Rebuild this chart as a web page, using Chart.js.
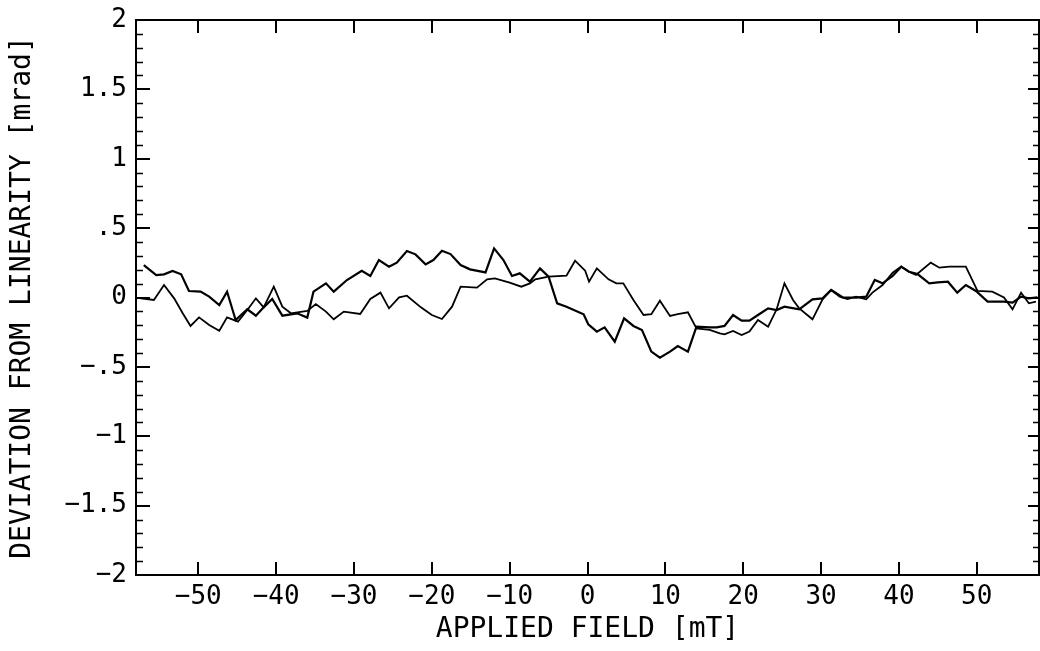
<!DOCTYPE html>
<html>
<head>
<meta charset="utf-8">
<title>Deviation from linearity</title>
<script src="https://cdn.jsdelivr.net/npm/chart.js@4/dist/chart.umd.min.js"></script>
<style>
  html, body { margin: 0; padding: 0; background: #fff; }
  #wrap { width: 1040px; height: 651px; position: relative; }
</style>
</head>
<body>
<div id="wrap"><canvas id="devChart"></canvas></div>
<script>
// sweep A (starts high on the left)
const fieldA = [-57.0, -55.4, -54.4, -53.3, -52.2, -51.2, -49.7, -48.6, -47.3, -46.3, -45.2, -43.7, -42.6, -41.6, -40.5, -39.2, -37.3, -36.0, -35.2, -33.6, -32.6, -30.9, -29.0, -27.9, -26.8, -25.5, -24.5, -23.2, -22.1, -20.8, -19.8, -18.7, -17.6, -16.3, -15.1, -13.1, -12.0, -10.8, -9.7, -8.7, -7.4, -6.1, -5.0, -3.9, -2.7, -0.5, 0.1, 1.2, 2.2, 3.5, 4.7, 5.9, 7.0, 8.2, 9.3, 10.6, 11.6, 12.9, 14.0, 15.7, 16.6, 17.6, 18.7, 19.8, 20.8, 21.9, 23.2, 24.3, 25.3, 27.2, 28.9, 30.2, 31.3, 32.8, 34.5, 35.8, 36.9, 37.9, 39.2, 40.3, 41.3, 42.4, 43.9, 45.0, 46.3, 47.5, 48.6, 49.9, 51.4, 53.5, 54.6, 55.7, 56.7, 57.8];
const devA = [0.234, 0.162, 0.167, 0.191, 0.167, 0.047, 0.042, 0.006, -0.054, 0.042, -0.162, -0.085, -0.131, -0.071, -0.011, -0.131, -0.114, -0.145, 0.042, 0.102, 0.042, 0.126, 0.193, 0.155, 0.270, 0.222, 0.251, 0.335, 0.311, 0.239, 0.270, 0.337, 0.313, 0.234, 0.203, 0.181, 0.354, 0.270, 0.155, 0.174, 0.114, 0.210, 0.150, -0.042, -0.066, -0.121, -0.193, -0.246, -0.215, -0.318, -0.150, -0.205, -0.234, -0.390, -0.434, -0.390, -0.350, -0.390, -0.210, -0.215, -0.215, -0.205, -0.126, -0.167, -0.167, -0.126, -0.078, -0.090, -0.066, -0.085, -0.013, -0.006, 0.054, 0.001, -0.001, 0.006, 0.126, 0.102, 0.155, 0.222, 0.186, 0.169, 0.102, 0.109, 0.114, 0.035, 0.090, 0.047, -0.030, -0.030, -0.037, 0.006, -0.006, 0.001];

// sweep B (starts near zero on the left)
const fieldB = [-57.4, -55.7, -54.4, -53.1, -52.0, -51.0, -49.9, -48.6, -47.3, -46.3, -44.9, -43.7, -42.6, -41.6, -40.3, -39.2, -38.1, -36.0, -34.9, -33.6, -32.6, -31.3, -29.2, -27.9, -26.6, -25.5, -24.2, -23.2, -21.4, -20.0, -18.7, -17.4, -16.3, -14.2, -12.9, -11.9, -10.0, -8.5, -7.4, -6.7, -5.0, -2.7, -1.6, -0.3, 0.2, 1.2, 2.7, 3.7, 4.6, 5.9, 7.2, 8.2, 9.3, 10.6, 11.6, 12.9, 14.0, 15.7, 17.0, 17.6, 18.7, 19.8, 20.8, 21.9, 23.2, 24.3, 25.3, 26.4, 27.2, 28.9, 30.2, 31.3, 32.4, 33.4, 34.5, 35.8, 36.6, 37.9, 39.2, 40.3, 41.3, 42.2, 44.1, 45.2, 46.5, 48.6, 50.1, 52.0, 53.5, 54.6, 55.7, 56.7, 57.6];
const devB = [-0.006, -0.018, 0.090, -0.006, -0.114, -0.205, -0.143, -0.198, -0.239, -0.143, -0.174, -0.090, -0.006, -0.071, 0.078, -0.066, -0.114, -0.097, -0.047, -0.102, -0.157, -0.102, -0.119, -0.011, 0.035, -0.078, 0.001, 0.013, -0.071, -0.126, -0.155, -0.066, 0.078, 0.071, 0.131, 0.138, 0.107, 0.078, 0.102, 0.131, 0.150, 0.157, 0.265, 0.193, 0.114, 0.210, 0.131, 0.102, 0.102, -0.018, -0.126, -0.120, -0.023, -0.133, -0.120, -0.107, -0.222, -0.234, -0.258, -0.265, -0.241, -0.270, -0.246, -0.162, -0.210, -0.085, 0.102, -0.018, -0.078, -0.157, -0.013, 0.054, 0.006, -0.011, 0.006, -0.013, 0.035, 0.090, 0.179, 0.222, 0.186, 0.162, 0.251, 0.215, 0.222, 0.222, 0.047, 0.042, 0.001, -0.085, 0.035, -0.042, -0.030];

const xTickValues = [-50, -40, -30, -20, -10, 0, 10, 20, 30, 40, 50];
const xTickLabels = ['\u221250', '\u221240', '\u221230', '\u221220', '\u221210', '0', '10', '20', '30', '40', '50'];
const yTickValues = [-2, -1.5, -1, -0.5, 0, 0.5, 1, 1.5, 2];
const yTickLabels = ['\u22122', '\u22121.5', '\u22121', '\u2212.5', '0', '.5', '1', '1.5', '2'];
const yMinorStep = 0.1;

const xTitle = 'APPLIED FIELD [mT]';
const yTitle = 'DEVIATION FROM LINEARITY [mrad]';

const monoFamily = '"DejaVu Sans Mono", "Liberation Mono", monospace';
const tickFont = { family: monoFamily, size: 26 };
const titleFont = { family: monoFamily, size: 28 };

const toPoints = (xs, ys) => xs.map((x, i) => ({ x: x, y: ys[i] }));

// short inward ticks between the labelled ones, left and right frame
const minorTicks = {
  id: 'minorTicks',
  afterDraw(chart) {
    const { ctx, chartArea, scales } = chart;
    const y = scales.y;
    ctx.save();
    ctx.strokeStyle = '#000';
    ctx.lineWidth = 1.6;
    const n = Math.round((y.max - y.min) / yMinorStep);
    for (let i = 0; i <= n; i++) {
      if (i % 5 === 0) continue;
      const py = Math.round(y.getPixelForValue(y.min + i * yMinorStep)) + 0.5;
      ctx.beginPath();
      ctx.moveTo(chartArea.left, py);
      ctx.lineTo(chartArea.left + 7, py);
      ctx.moveTo(chartArea.right, py);
      ctx.lineTo(chartArea.right - 6, py);
      ctx.stroke();
    }
    ctx.restore();
  }
};

const frameGrid = (len) => ({
  drawOnChartArea: false,
  drawTicks: true,
  tickLength: len,
  color: '#000',
  lineWidth: 2
});
const frameBorder = { display: true, color: '#000', width: 2 };

const ctx = document.getElementById('devChart').getContext('2d');
const devChart = new Chart(ctx, {
  type: 'scatter',
  data: {
    datasets: [{
      label: 'sweep A',
      data: toPoints(fieldA, devA),
      showLine: true,
      borderColor: '#000',
      borderWidth: 2.2,
      pointRadius: 0,
      tension: 0
    }, {
      label: 'sweep B',
      data: toPoints(fieldB, devB),
      showLine: true,
      borderColor: '#000',
      borderWidth: 1.8,
      pointRadius: 0,
      tension: 0
    }]
  },
  options: {
    responsive: true,
    maintainAspectRatio: false,
    animation: false,
    layout: { padding: { top: 20, right: 1, left: 0, bottom: 0 } },
    plugins: {
      legend: { display: false },
      tooltip: { enabled: false }
    },
    scales: {
      x: {
        type: 'linear',
        position: 'bottom',
        min: -58,
        max: 58,
        afterBuildTicks: s => { s.ticks = xTickValues.map(v => ({ value: v })); },
        afterFit: s => { s.height = 76; s.paddingLeft = 0; s.paddingRight = 0; },
        grid: frameGrid(-13),
        border: frameBorder,
        ticks: {
          color: '#000',
          font: tickFont,
          padding: 20,
          maxRotation: 0,
          callback: v => xTickLabels[xTickValues.indexOf(v)]
        },
        title: {
          display: true,
          text: xTitle,
          color: '#000',
          font: titleFont,
          padding: { top: 0, bottom: 4 }
        }
      },
      x2: {
        type: 'linear',
        position: 'top',
        min: -58,
        max: 58,
        afterBuildTicks: s => { s.ticks = xTickValues.map(v => ({ value: v })); },
        afterFit: s => { s.height = 0; },
        grid: frameGrid(-13),
        border: frameBorder,
        ticks: { display: false }
      },
      y: {
        type: 'linear',
        position: 'left',
        min: -2,
        max: 2,
        afterBuildTicks: s => { s.ticks = yTickValues.map(v => ({ value: v })); },
        afterFit: s => { s.width = 136; s.paddingTop = 0; s.paddingBottom = 0; },
        grid: frameGrid(-14),
        border: frameBorder,
        ticks: {
          color: '#000',
          font: tickFont,
          padding: 23,
          callback: v => yTickLabels[yTickValues.indexOf(v)]
        },
        title: {
          display: true,
          text: yTitle,
          color: '#000',
          font: titleFont,
          padding: { top: 6, bottom: 0 }
        }
      },
      y2: {
        type: 'linear',
        position: 'right',
        min: -2,
        max: 2,
        afterBuildTicks: s => { s.ticks = yTickValues.map(v => ({ value: v })); },
        afterFit: s => { s.width = 0; },
        grid: frameGrid(-11),
        border: frameBorder,
        ticks: { display: false }
      }
    }
  },
  plugins: [minorTicks]
});
</script>
</body>
</html>
